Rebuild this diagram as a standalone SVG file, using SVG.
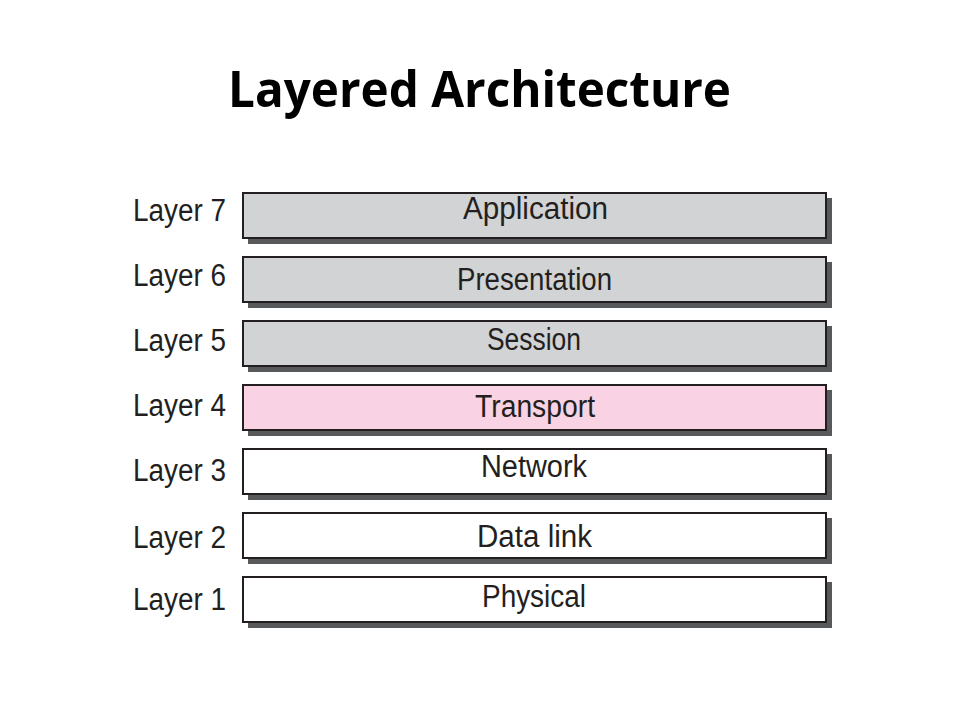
<svg xmlns="http://www.w3.org/2000/svg" width="960" height="720" viewBox="0 0 960 720">
<style>
.title{font-family:"Open Sans","Liberation Sans",sans-serif;font-weight:700;font-size:50px;fill:#000}
.lbl{font-family:"Liberation Sans",Arial,sans-serif;font-size:31px;fill:#231f20}
.box{stroke:#231f20;stroke-width:2}
.shadow{fill:#58595b}
.gray{fill:#d1d3d4}
.pink{fill:#f9d3e3}
.white{fill:#ffffff}
</style>
<rect width="960" height="720" fill="#ffffff"/>
<text class="title" x="228" y="107" textLength="503" lengthAdjust="spacingAndGlyphs">Layered Architecture</text>
<g id="connectors"/>
<g id="layer7">
<rect class="shadow" x="248" y="198" width="584" height="46"/>
<rect class="box gray" x="243" y="193" width="583" height="45"/>
<text class="lbl" x="133" y="221" textLength="93" lengthAdjust="spacingAndGlyphs">Layer 7</text>
<text class="lbl" x="463" y="219" textLength="145" lengthAdjust="spacingAndGlyphs">Application</text>
</g>
<g id="layer6">
<rect class="shadow" x="248" y="262" width="584" height="46"/>
<rect class="box gray" x="243" y="257" width="583" height="45"/>
<text class="lbl" x="133" y="286" textLength="93" lengthAdjust="spacingAndGlyphs">Layer 6</text>
<text class="lbl" x="457" y="290" textLength="155" lengthAdjust="spacingAndGlyphs">Presentation</text>
</g>
<g id="layer5">
<rect class="shadow" x="248" y="326" width="584" height="46"/>
<rect class="box gray" x="243" y="321" width="583" height="45"/>
<text class="lbl" x="133" y="351" textLength="93" lengthAdjust="spacingAndGlyphs">Layer 5</text>
<text class="lbl" x="487" y="350" textLength="94" lengthAdjust="spacingAndGlyphs">Session</text>
</g>
<g id="layer4">
<rect class="shadow" x="248" y="390" width="584" height="46"/>
<rect class="box pink" x="243" y="385" width="583" height="45"/>
<text class="lbl" x="133" y="416" textLength="93" lengthAdjust="spacingAndGlyphs">Layer 4</text>
<text class="lbl" x="475" y="417" textLength="120" lengthAdjust="spacingAndGlyphs">Transport</text>
</g>
<g id="layer3">
<rect class="shadow" x="248" y="454" width="584" height="46"/>
<rect class="box white" x="243" y="449" width="583" height="45"/>
<text class="lbl" x="133" y="481" textLength="93" lengthAdjust="spacingAndGlyphs">Layer 3</text>
<text class="lbl" x="481" y="477" textLength="106" lengthAdjust="spacingAndGlyphs">Network</text>
</g>
<g id="layer2">
<rect class="shadow" x="248" y="518" width="584" height="46"/>
<rect class="box white" x="243" y="513" width="583" height="45"/>
<text class="lbl" x="133" y="548" textLength="93" lengthAdjust="spacingAndGlyphs">Layer 2</text>
<text class="lbl" x="477" y="547" textLength="115" lengthAdjust="spacingAndGlyphs">Data link</text>
</g>
<g id="layer1">
<rect class="shadow" x="248" y="582" width="584" height="46"/>
<rect class="box white" x="243" y="577" width="583" height="45"/>
<text class="lbl" x="133" y="610" textLength="93" lengthAdjust="spacingAndGlyphs">Layer 1</text>
<text class="lbl" x="482" y="607" textLength="104" lengthAdjust="spacingAndGlyphs">Physical</text>
</g>
</svg>
